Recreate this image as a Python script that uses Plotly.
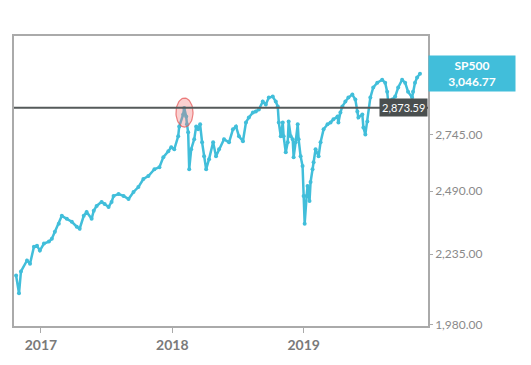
import math
import plotly.graph_objects as go

# decimal-year positions and index values
years = [
    2016.811, 2016.833, 2016.848, 2016.894, 2016.917, 2016.947, 2016.970, 2016.992,
    2017.023, 2017.061, 2017.083, 2017.106, 2017.136, 2017.159, 2017.197, 2017.235,
    2017.273, 2017.295, 2017.326, 2017.348, 2017.386, 2017.402, 2017.424, 2017.462,
    2017.485, 2017.515, 2017.538, 2017.553, 2017.591, 2017.629, 2017.667, 2017.705,
    2017.742, 2017.780, 2017.818, 2017.864, 2017.902, 2017.932, 2017.970, 2017.992,
    2018.015, 2018.045, 2018.053, 2018.083, 2018.091, 2018.106, 2018.112, 2018.121,
    2018.129, 2018.144, 2018.167, 2018.182, 2018.197, 2018.212, 2018.227, 2018.242,
    2018.258, 2018.280, 2018.311, 2018.333, 2018.356, 2018.394, 2018.432, 2018.462,
    2018.485, 2018.508, 2018.538, 2018.561, 2018.583, 2018.614, 2018.636, 2018.659,
    2018.689, 2018.712, 2018.735, 2018.765, 2018.788, 2018.803, 2018.811, 2018.826,
    2018.841, 2018.848, 2018.864, 2018.879, 2018.886, 2018.902, 2018.917, 2018.924,
    2018.939, 2018.955, 2018.962, 2018.977, 2018.992, 2019.000, 2019.008, 2019.023,
    2019.030, 2019.045, 2019.053, 2019.068, 2019.076, 2019.091, 2019.114, 2019.129,
    2019.152, 2019.182, 2019.205, 2019.227, 2019.258, 2019.265, 2019.280, 2019.295,
    2019.318, 2019.341, 2019.371, 2019.394, 2019.409, 2019.417, 2019.447, 2019.455,
    2019.470, 2019.485, 2019.508, 2019.530, 2019.561, 2019.598, 2019.621, 2019.636,
    2019.644, 2019.674, 2019.697, 2019.720, 2019.750, 2019.773, 2019.795, 2019.826,
    2019.833, 2019.848, 2019.864, 2019.886,
]
values = [
    2155, 2090, 2170, 2211, 2199, 2264, 2268, 2249,
    2276, 2284, 2295, 2323, 2355, 2387, 2375, 2363,
    2343, 2335, 2387, 2403, 2375, 2408, 2428, 2445,
    2436, 2424, 2445, 2470, 2478, 2470, 2457, 2487,
    2508, 2543, 2556, 2586, 2595, 2640, 2667, 2685,
    2676, 2736, 2783, 2841, 2872, 2831, 2793, 2755,
    2586, 2676, 2722, 2783, 2770, 2793, 2708, 2644,
    2586, 2631, 2708, 2644, 2676, 2722, 2708, 2769,
    2783, 2736, 2713, 2802, 2826, 2850, 2855, 2865,
    2904, 2890, 2924, 2929, 2904, 2880, 2802, 2736,
    2802, 2736, 2662, 2708, 2807, 2736, 2722, 2640,
    2708, 2793, 2722, 2644, 2600, 2470, 2355, 2470,
    2512, 2449, 2530, 2586, 2617, 2676, 2644, 2708,
    2769, 2793, 2802, 2817, 2831, 2802, 2850, 2880,
    2904, 2924, 2939, 2914, 2855, 2826, 2841, 2778,
    2745, 2807, 2924, 2975, 3000, 3015, 3000, 2954,
    2904, 2914, 2929, 2975, 3015, 3000, 2954, 2924,
    2954, 3000, 3026, 3046.77,
]
ref_level = 2873.59
series_name = "SP500"
y_ticks = [1980, 2235, 2490, 2745, 3000]
x_ticks = [2017, 2018, 2019]
x_labels = ["2017", "2018", "2019"]
highlight_year = 2018.093   # highlighted top (January 2018)
highlight_value = 2850

LINE = "#41BEDA"

fig = go.Figure()
fig.add_trace(go.Scatter(
    x=years, y=values, mode="lines+markers",
    line=dict(color=LINE, width=2.5),
    marker=dict(color=LINE, size=4),
    showlegend=False, hoverinfo="skip",
))

# red highlight ellipse around the January 2018 top
n = 60
rx, ry = 0.065, 0.0108  # half-width in years, half-height in log10 units
ex = [highlight_year + rx * math.cos(2 * math.pi * i / n) for i in range(n + 1)]
ey = [highlight_value * 10 ** (ry * math.sin(2 * math.pi * i / n)) for i in range(n + 1)]
fig.add_trace(go.Scatter(
    x=ex, y=ey, mode="lines", fill="toself",
    fillcolor="rgba(240,120,120,0.35)",
    line=dict(color="rgba(230,90,90,0.75)", width=1.2),
    showlegend=False, hoverinfo="skip",
))

# reference horizontal line
fig.add_shape(type="line", xref="paper", x0=0, x1=1, yref="y",
              y0=ref_level, y1=ref_level,
              line=dict(color="#555a5a", width=2))

fig.add_annotation(
    xref="paper", x=1, xanchor="right", yref="y", y=math.log10(ref_level),
    text=f"{ref_level:,.2f}", showarrow=False,
    font=dict(family="Lato", size=11, color="white"),
    bgcolor="#4a4f4f", borderpad=2,
)
fig.add_annotation(
    xref="paper", x=1, xanchor="left", yref="y", y=math.log10(values[-1]),
    text=f"<b>{series_name}<br>{values[-1]:,.2f}</b>", showarrow=False,
    font=dict(family="Lato", size=12, color="white"),
    bgcolor=LINE, borderpad=2, width=82, align="center",
)

fig.update_layout(
    width=531, height=365,
    margin=dict(l=12, r=103, t=36, b=38),
    paper_bgcolor="white", plot_bgcolor="white",
    font=dict(family="Lato", color="#8a8a8a"),
    xaxis=dict(
        range=[2016.795, 2019.947], tickvals=x_ticks, ticktext=x_labels,
        showgrid=False, zeroline=False,
        showline=True, linecolor="#aaaaaa", linewidth=1.5, mirror=True,
        ticks="outside", ticklen=5, tickcolor="#aaaaaa",
        tickfont=dict(family="Lato", size=14, color="#7a7a7a", weight="bold"),
    ),
    yaxis=dict(
        type="log", side="right",
        range=[math.log10(1976), math.log10(3250)],
        tickvals=y_ticks, ticktext=[f"{v:,.2f}" for v in y_ticks],
        showgrid=False, zeroline=False,
        showline=True, linecolor="#aaaaaa", linewidth=1.5, mirror=True,
        ticks="outside", ticklen=3, tickcolor="#aaaaaa",
        tickfont=dict(family="Lato", size=12, color="#8a8a8a"),
    ),
)

fig.write_html("out.html")
